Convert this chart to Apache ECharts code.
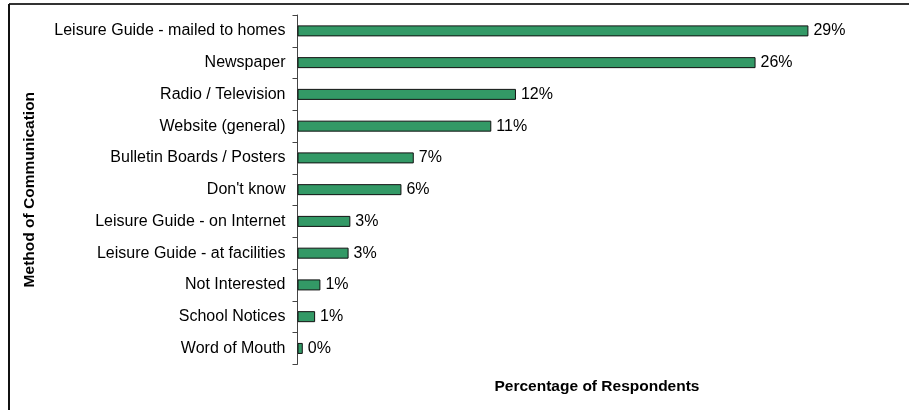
<!DOCTYPE html>
<html>
<head>
<meta charset="utf-8">
<script src="https://cdn.jsdelivr.net/npm/echarts@6/dist/echarts.min.js"></script>
<style>
html,body{margin:0;padding:0;background:#fff;}
#chart{width:909px;height:410px;}
</style>
</head>
<body>
<div id="chart"></div>
<script>
const categories = [
  "Leisure Guide - mailed to homes",
  "Newspaper",
  "Radio / Television",
  "Website (general)",
  "Bulletin Boards / Posters",
  "Don't know",
  "Leisure Guide - on Internet",
  "Leisure Guide - at facilities",
  "Not Interested",
  "School Notices",
  "Word of Mouth"
];
const values = [29.0, 26.0, 12.4, 11.0, 6.6, 5.9, 3.0, 2.9, 1.3, 1.0, 0.3];
const xTitle = "Percentage of Respondents";
const yTitle = "Method of Communication";

const chart = echarts.init(document.getElementById('chart'), null, {renderer: 'canvas'});
const font = "'Liberation Sans', Arial, sans-serif";
chart.setOption({
  animation: false,
  backgroundColor: '#ffffff',
  grid: {left: 297.5, right: 12.5, top: 15, bottom: 45.7, containLabel: false},
  xAxis: {
    type: 'value', min: 0, max: 34,
    show: true,
    axisLine: {show: false}, axisTick: {show: false}, axisLabel: {show: false},
    splitLine: {show: false},
    name: xTitle, nameLocation: 'middle', nameGap: 14,
    nameTextStyle: {fontFamily: font, fontSize: 15.5, fontWeight: 'bold', color: '#000'}
  },
  yAxis: {
    type: 'category', data: categories, inverse: true,
    axisLine: {show: true, lineStyle: {color: '#444', width: 1}},
    axisTick: {show: true, length: 5, lineStyle: {color: '#444'}},
    axisLabel: {fontFamily: font, fontSize: 16, color: '#000', margin: 12},
    name: yTitle, nameLocation: 'middle', nameGap: 260,
    nameTextStyle: {fontFamily: font, fontSize: 15.5, fontWeight: 'bold', color: '#000'}
  },
  series: [{
    type: 'bar',
    data: values,
    barWidth: 11,
    itemStyle: {color: '#339966', borderColor: '#111', borderWidth: 1},
    label: {
      show: true, position: 'right', distance: 5,
      fontFamily: font, fontSize: 16, color: '#000',
      formatter: p => Math.round(p.value) + '%'
    }
  }],
  graphic: [
    {type: 'line', shape: {x1: 9, y1: 4, x2: 909, y2: 4}, style: {stroke: '#333', lineWidth: 2}},
    {type: 'line', shape: {x1: 9, y1: 4, x2: 9, y2: 410}, style: {stroke: '#111', lineWidth: 2}}
  ]
});
</script>
</body>
</html>
